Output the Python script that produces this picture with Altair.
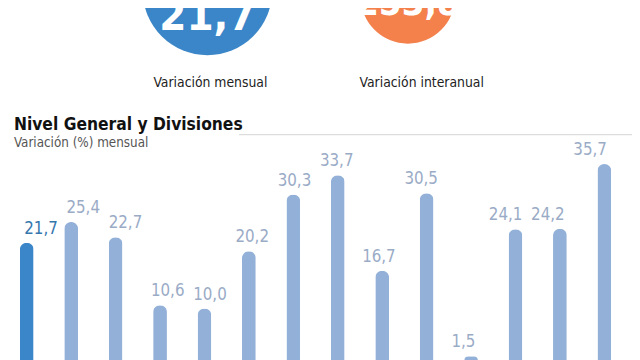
import altair as alt
import pandas as pd

# --- data ---
categories = ["Nivel General", "Div 1", "Div 2", "Div 3", "Div 4", "Div 5", "Div 6",
              "Div 7", "Div 8", "Div 9", "Div 10", "Div 11", "Div 12", "Div 13"]
values = [21.7, 25.4, 22.7, 10.6, 10.0, 20.2, 30.3, 33.7, 16.7, 30.5, 1.5, 24.1, 24.2, 35.7]
labels = ["21,7", "25,4", "22,7", "10,6", "10,0", "20,2", "30,3", "33,7", "16,7", "30,5",
          "1,5", "24,1", "24,2", "35,7"]

kpi_names = ["Variación mensual", "Variación interanual"]
kpi_texts = ["21,7", "253,8"]

FONT = "DejaVu Sans Condensed, Liberation Sans Narrow, Roboto, sans-serif"
BLUE = "#3a86c8"
ORANGE = "#f4804c"
LIGHT = "#93b1d8"

df = pd.DataFrame({"cat": categories, "value": values, "label": labels})
kdf = pd.DataFrame({"name": kpi_names, "text": kpi_texts})

W, H = 632, 352

xs = alt.X("cat:N", sort=categories, axis=None,
           scale=alt.Scale(range=[12, 611], paddingInner=0.689, paddingOuter=0))
ys = alt.Y("value:Q", axis=None, scale=alt.Scale(domain=[0, 40], range=[359, 131.4]))

base = alt.Chart(df)
bars = base.mark_bar(cornerRadiusTopLeft=7, cornerRadiusTopRight=7).encode(
    x=xs, y=ys,
    color=alt.condition(alt.datum.cat == "Nivel General", alt.value(BLUE), alt.value(LIGHT)),
)
bar_labels = base.mark_text(baseline="bottom", dy=-5, font=FONT, fontSize=17).encode(
    x=xs, y=ys, text="label:N",
    color=alt.condition(alt.datum.cat == "Nivel General", alt.value("#3576ad"), alt.value("#9aabc6")),
)

kx = alt.X("name:N", sort=kpi_names, axis=None,
           scale=alt.Scale(domain=kpi_names, range=[202, 405], padding=0))
ky = alt.Y("name:N", sort=kpi_names, axis=None,
           scale=alt.Scale(domain=kpi_names, range=[-20, -14], padding=0))
kbase = alt.Chart(kdf)
circles = kbase.mark_circle(opacity=1).encode(
    x=kx, y=ky,
    size=alt.Size("name:N", sort=kpi_names, legend=None,
                  scale=alt.Scale(domain=kpi_names, range=[17203, 9161])),
    color=alt.Color("name:N", sort=kpi_names, legend=None,
                    scale=alt.Scale(domain=kpi_names, range=[BLUE, ORANGE])),
)
val1 = kbase.transform_filter(alt.datum.name == kpi_names[0]).mark_text(
    font=FONT, fontWeight="bold", fontSize=44, color="white", baseline="alphabetic"
).encode(x=kx, y=alt.value(20), text="text:N")
val2 = kbase.transform_filter(alt.datum.name == kpi_names[1]).mark_text(
    font=FONT, fontWeight="bold", fontSize=37, color="white", baseline="alphabetic"
).encode(x=kx, y=alt.value(5), text="text:N")

lx = alt.X("name:N", sort=kpi_names, axis=None,
           scale=alt.Scale(domain=kpi_names, range=[205, 419], padding=0))
klabels = kbase.mark_text(font=FONT, fontSize=14, color="#222222", baseline="alphabetic").encode(
    x=lx, y=alt.value(78), text="name:N"
)

title = alt.Chart(pd.DataFrame({"t": ["Nivel General y Divisiones"]})).mark_text(
    font=FONT, fontWeight="bold", fontSize=17.5, color="#111111", align="left", baseline="alphabetic"
).encode(x=alt.value(6), y=alt.value(121), text="t:N")
subtitle = alt.Chart(pd.DataFrame({"t": ["Variación (%) mensual"]})).mark_text(
    font=FONT, fontSize=13.5, color="#555555", align="left", baseline="alphabetic"
).encode(x=alt.value(6), y=alt.value(139), text="t:N")
rule = alt.Chart(pd.DataFrame({"a": [0]})).mark_rule(color="#dddddd", strokeWidth=1.5).encode(
    x=alt.value(234), x2=alt.value(632), y=alt.value(126)
)

chart = alt.layer(
    bars, bar_labels, circles, val1, val2, klabels, title, subtitle, rule
).resolve_scale(
    x="independent", y="independent", color="independent", size="independent"
).properties(
    width=W, height=H, padding=0, autosize=alt.AutoSizeParams(type="none"),
    background="white"
).configure_view(stroke=None)

chart.save("out.html", embed_options={"renderer": "svg", "actions": False})
